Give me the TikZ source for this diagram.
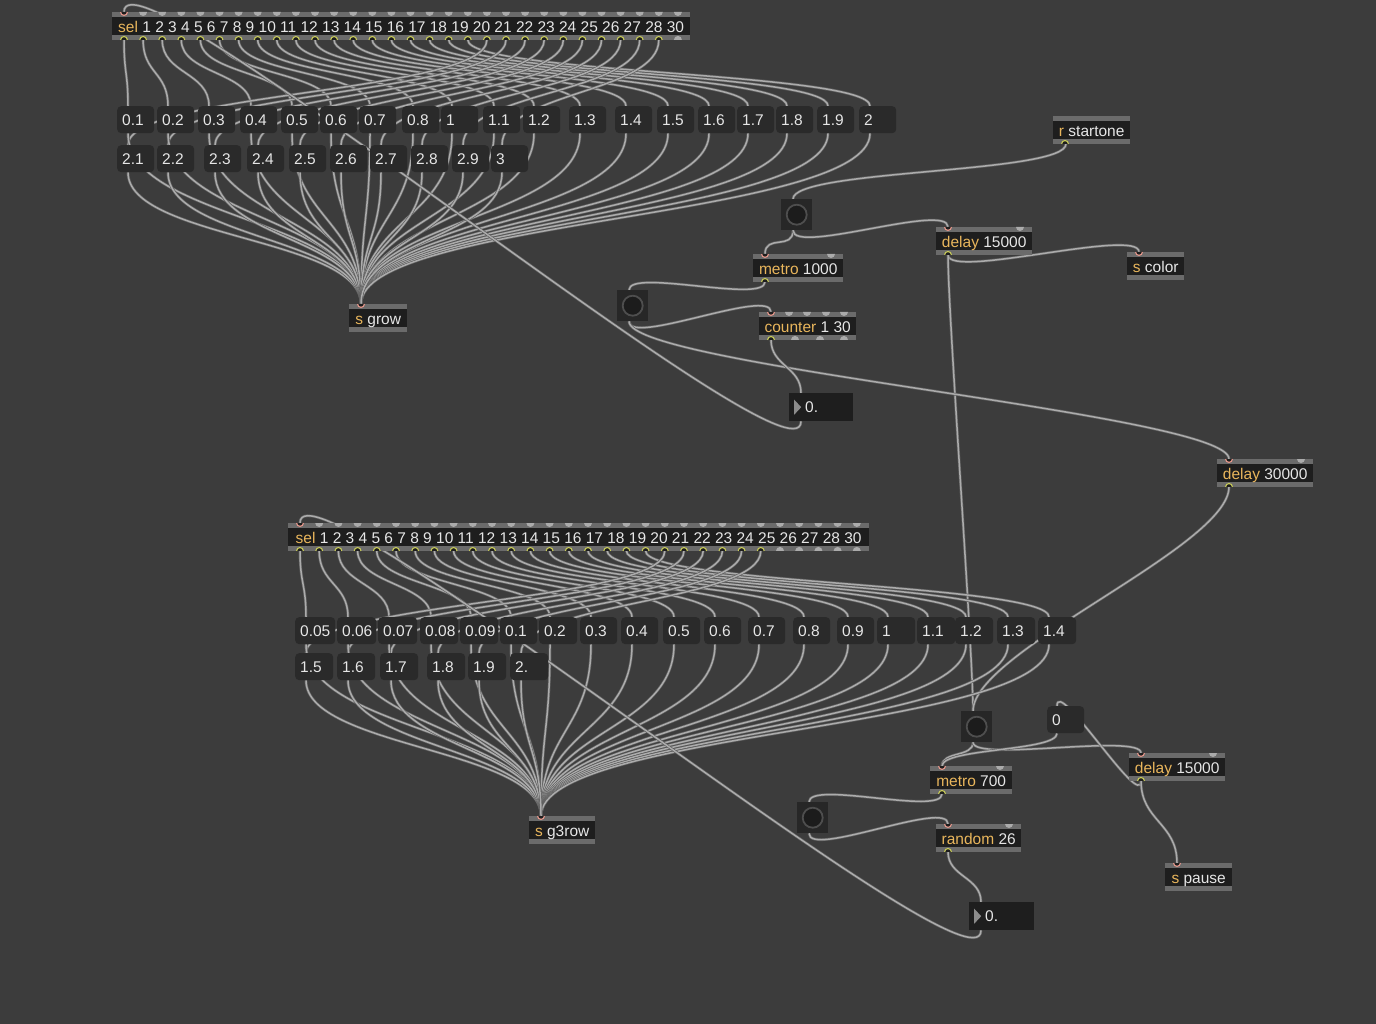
\documentclass[tikz,border=0pt]{standalone}
\usepackage{fontspec}
\setmainfont{Liberation Sans}
\usepackage{xcolor}
\usepackage{tikz}
\usetikzlibrary{calc,backgrounds}

\definecolor{bgcol}{HTML}{3C3C3C}
\definecolor{objfill}{HTML}{1E1E1E}
\definecolor{msgfill}{HTML}{2A2A2A}
\definecolor{barcol}{HTML}{6B6B6B}
\definecolor{portgrey}{HTML}{ABABAB}
\definecolor{portpink}{HTML}{E8988C}
\definecolor{portyel}{HTML}{C8CB58}
\definecolor{objname}{HTML}{E9B65C}
\definecolor{txtcol}{HTML}{E6E6E6}
\definecolor{cordcore}{HTML}{ACACAC}
\definecolor{cordedge}{HTML}{5E5E5E}
\definecolor{bangfill}{HTML}{272727}
\definecolor{bangring}{HTML}{4E4E4E}
\definecolor{bangdot}{HTML}{1C1C1C}
\definecolor{tricol}{HTML}{8C8C8C}

\newcommand{\mx}{\fontsize{15.5pt}{18pt}\selectfont}
\newcommand{\on}[1]{\textcolor{objname}{#1}}
\newcommand{\cord}[3][30]{\draw[cord] (#2) .. controls +(0,#1) and +(0,-#1) .. (#3);}

\begin{document}
\begin{tikzpicture}[x=1pt, y=-1pt,
  obj/.style={anchor=north west, fill=objfill, text=txtcol, font=\mx,
    minimum width=#1, minimum height=27.5pt, inner xsep=4.5pt, inner ysep=0pt,
    text height=12.5pt, text depth=0pt,
    path picture={
      \fill[barcol] (path picture bounding box.north west) rectangle ([yshift=-4.5pt]path picture bounding box.north east);
      \fill[barcol] (path picture bounding box.south west) rectangle ([yshift=4.5pt]path picture bounding box.south east);}},
  obj/.default=40pt,
  msg/.style={anchor=north west, fill=msgfill, rounded corners=4pt, text=txtcol, font=\mx,
    text width=#1, align=left, minimum height=27pt, inner xsep=5pt, inner ysep=0pt,
    text height=11pt, text depth=0pt},
  msg/.default=27pt,
  numbox/.style={anchor=north west, fill=objfill, text=txtcol, font=\mx,
    text width=#1, align=left, minimum height=28pt, inner xsep=5pt, inner ysep=0pt,
    text height=11pt, text depth=0pt,
    path picture={\fill[tricol] ([xshift=5pt,yshift=7.5pt]path picture bounding box.west)
      -- ([xshift=12pt]path picture bounding box.west) -- ([xshift=5pt,yshift=-7.5pt]path picture bounding box.west) -- cycle;}},
  bangbox/.style={anchor=north west, fill=bangfill, minimum width=31pt, minimum height=31pt, inner sep=0pt,
    path picture={\draw[bangring, fill=bangdot, line width=1.8pt] (path picture bounding box.center) circle (10pt);}},
  cord/.style={draw=cordedge, line width=0.65pt, double=cordcore, double distance=1.5pt},
  pics/inD/.style={code={\fill[portgrey] (-4,0) arc (180:0:4) -- cycle;}},
  pics/inC/.style={code={\fill[objfill] (-3.4,0) arc (180:0:3.4) -- cycle;
    \draw[portpink, line width=1.1pt] (-3.4,0) arc (180:0:3.4);}},
  pics/outD/.style={code={\fill[portgrey] (-4,0) arc (180:360:4) -- cycle;}},
  pics/outC/.style={code={\fill[objfill] (-3.4,0) arc (180:360:3.4) -- cycle;
    \draw[portyel, line width=1.1pt] (-3.4,0) arc (180:360:3.4);}}]
  \useasboundingbox (0,0) rectangle (1376,1024);

  % Top patch
  \node[obj=578pt] (sel1) at (112,12) {\on{sel} 1 2 3 4 5 6 7 8 9 10 11 12 13 14 15 16 17 18 19 20 21 22 23 24 25 26 27 28 30};
  \foreach \x/\lab [count=\i] in {117/0.1,157/0.2,198/0.3,240/0.4,281/0.5,320/0.6,359/0.7,402/0.8,441/1,483/1.1,
      523/1.2,569/1.3,615/1.4,657/1.5,698/1.6,737/1.7,776/1.8,817/1.9,859/2}
    \node[msg] (a\i) at (\x,106) {\lab};
  \foreach \x/\lab [count=\i from 20] in {117/2.1,157/2.2,204/2.3,247/2.4,289/2.5,330/2.6,370/2.7,411/2.8,452/2.9,491/3}
    \node[msg] (a\i) at (\x,145) {\lab};
  \node[obj=58pt] (grow) at (349,304) {\on{s} grow};

  \node[obj=77pt] (start) at (1053,116) {\on{r} startone};
  \node[bangbox] (bang1) at (781,199) {};
  \node[obj=96pt] (delay1) at (936,227) {\on{delay} 15000};
  \node[obj=90pt] (metro1) at (753,254) {\on{metro} 1000};
  \node[obj=57pt] (color) at (1127,252) {\on{s} color};
  \node[bangbox] (bang2) at (617,290) {};
  \node[obj=97pt] (counter) at (759,312) {\on{counter} 1 30};
  \node[numbox=54pt] (num1) at (789,393) {\hspace*{11pt}0.};
  \node[obj=96pt] (delay2) at (1217,459) {\on{delay} 30000};

  % Bottom patch
  \node[obj=581pt] (sel2) at (288,523) {\on{sel} 1 2 3 4 5 6 7 8 9 10 11 12 13 14 15 16 17 18 19 20 21 22 23 24 25 26 27 28 30};
  \foreach \x/\w/\lab [count=\i] in {295/30/0.05,337/29/0.06,378/29/0.07,420/28/0.08,460/28/0.09,500/27/0.1,
      539/28/0.2,580/27/0.3,621/27/0.4,663/27/0.5,704/27/0.6,748/27/0.7,793/27/0.8,837/27/0.9,
      877/28/1,917/28/1.1,955/28/1.2,997/28/1.3,1038/28/1.4}
    \node[msg=\w pt] (b\i) at (\x,617) {\lab};
  \foreach \x/\lab [count=\i from 20] in {295/1.5,337/1.6,380/1.7,427/1.8,468/1.9,510/2.}
    \node[msg=28pt] (b\i) at (\x,653) {\lab};
  \node[obj=66pt] (g3row) at (529,816) {\on{s} g3row};

  \node[bangbox] (bang3) at (961,711) {};
  \node[msg] (zero) at (1047,706) {0};
  \node[obj=96pt] (delay3) at (1129,753) {\on{delay} 15000};
  \node[obj=82pt] (metro2) at (930,766) {\on{metro} 700};
  \node[bangbox] (bang4) at (797,802) {};
  \node[obj=85pt] (random) at (936,824) {\on{random} 26};
  \node[obj=67pt] (pause) at (1165,863) {\on{s} pause};
  \node[numbox=55pt] (num2) at (969,902) {\hspace*{11pt}0.};

  % Inlets and outlets
  \foreach \n in {sel1,grow,metro1,delay1,color,counter,delay2,sel2,g3row,metro2,delay3,random,pause}
    \pic at ([xshift=12pt]\n.north west) {inC};
  \foreach \n in {start,metro1,delay1,counter,delay2,metro2,delay3,random}
    \pic at ([xshift=12pt]\n.south west) {outC};
  \foreach \n/\dx in {metro1/78,delay1/84,counter/30,counter/48,counter/67,counter/85,delay2/84,metro2/70,delay3/84,random/73}
    \pic at ([xshift=\dx pt]\n.north west) {inD};
  \foreach \dx in {36,61,85}
    \pic at ([xshift=\dx pt]counter.south west) {outD};
  \foreach \k in {1,...,29} {
    \pic at ([xshift=12pt+\k*19.1pt]sel1.north west) {inD};
    \pic at ([xshift=12pt+\k*19.2pt]sel2.north west) {inD};}
  \foreach \k in {0,...,28}
    \pic at ([xshift=12pt+\k*19.1pt]sel1.south west) {outC};
  \pic at ([xshift=12pt+29*19.1pt]sel1.south west) {outD};
  \foreach \k in {0,...,24}
    \pic at ([xshift=12pt+\k*19.2pt]sel2.south west) {outC};
  \foreach \k in {25,...,29}
    \pic at ([xshift=12pt+\k*19.2pt]sel2.south west) {outD};

  % Connections
  \begin{scope}[on background layer]
    \fill[bgcol] (0,0) rectangle (1376,1024);
    \foreach \i in {1,...,19}
      {\cord[34]{[xshift=12pt+(\i-1)*19.1pt]sel1.south west}{[xshift=11pt]a\i.north west}}
    \foreach \i in {20,...,29}
      {\cord[53]{[xshift=12pt+(\i-1)*19.1pt]sel1.south west}{[xshift=11pt]a\i.north west}}
    \foreach \i in {1,...,19}
      {\cord[85]{[xshift=11pt]a\i.south west}{[xshift=12pt]grow.north west}}
    \foreach \i in {20,...,29}
      {\cord[66]{[xshift=11pt]a\i.south west}{[xshift=12pt]grow.north west}}

    \cord[30]{[xshift=13pt]start.south west}{[xshift=12pt]bang1.north west}
    \cord[20]{[xshift=12pt]bang1.south west}{[xshift=12pt]metro1.north west}
    \cord[25]{[xshift=12pt]bang1.south west}{[xshift=12pt]delay1.north west}
    \cord[25]{[xshift=12pt]delay1.south west}{[xshift=12pt]color.north west}
    \cord[60]{[xshift=12pt]delay1.south west}{[xshift=12pt]bang3.north west}
    \cord[22]{[xshift=12pt]metro1.south west}{[xshift=12pt]bang2.north west}
    \cord[25]{[xshift=12pt]bang2.south west}{[xshift=12pt]counter.north west}
    \cord[45]{[xshift=12pt]bang2.south west}{[xshift=12pt]delay2.north west}
    \cord[26]{[xshift=12pt]counter.south west}{[xshift=12pt]num1.north west}
    \cord[77]{[xshift=12pt]num1.south west}{[xshift=12pt]sel1.north west}
    \cord[60]{[xshift=12pt]delay2.south west}{[xshift=12pt]bang3.north west}

    \foreach \i in {1,...,19}
      {\cord[33]{[xshift=12pt+(\i-1)*19.2pt]sel2.south west}{[xshift=11pt]b\i.north west}}
    \foreach \i in {20,...,25}
      {\cord[51]{[xshift=12pt+(\i-1)*19.2pt]sel2.south west}{[xshift=11pt]b\i.north west}}
    \foreach \i in {1,...,19}
      {\cord[86]{[xshift=11pt]b\i.south west}{[xshift=12pt]g3row.north west}}
    \foreach \i in {20,...,25}
      {\cord[67]{[xshift=11pt]b\i.south west}{[xshift=12pt]g3row.north west}}

    \cord[15]{[xshift=12pt]bang3.south west}{[xshift=12pt]metro2.north west}
    \cord[20]{[xshift=12pt]bang3.south west}{[xshift=12pt]delay3.north west}
    \cord[18]{[xshift=10pt]zero.south west}{[xshift=12pt]metro2.north west}
    \cord[30]{[xshift=12pt]delay3.south west}{[xshift=10pt]zero.north west}
    \cord[40]{[xshift=12pt]delay3.south west}{[xshift=12pt]pause.north west}
    \cord[22]{[xshift=12pt]metro2.south west}{[xshift=12pt]bang4.north west}
    \cord[25]{[xshift=12pt]bang4.south west}{[xshift=12pt]random.north west}
    \cord[25]{[xshift=12pt]random.south west}{[xshift=12pt]num2.north west}
    \cord[77]{[xshift=12pt]num2.south west}{[xshift=12pt]sel2.north west}
  \end{scope}
\end{tikzpicture}
\end{document}
